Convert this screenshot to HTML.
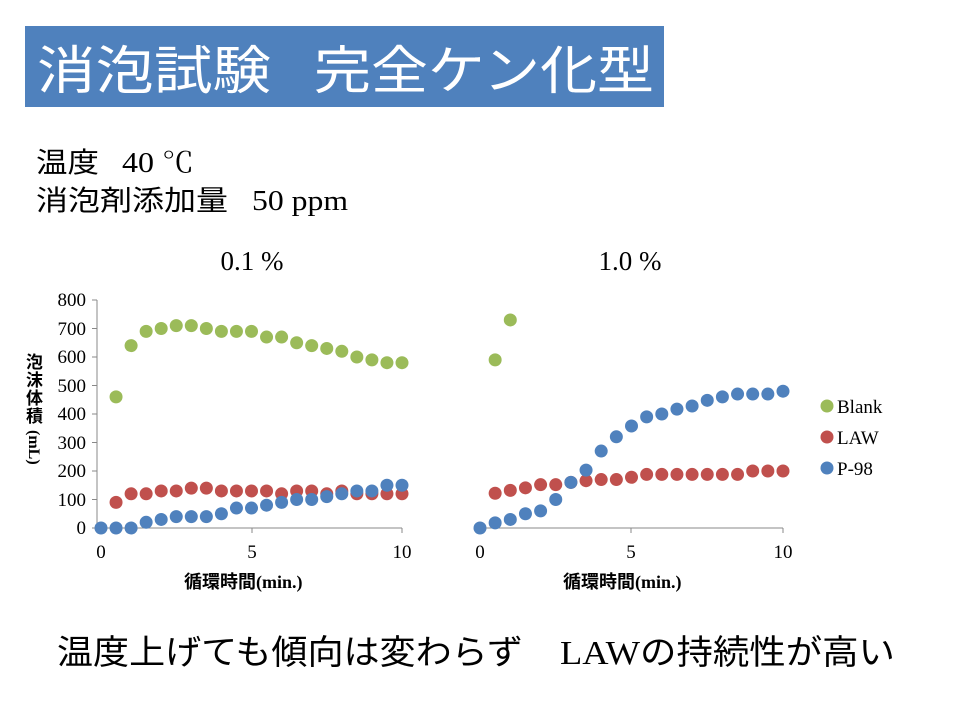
<!DOCTYPE html>
<html><head><meta charset="utf-8"><style>
html,body{margin:0;padding:0;background:#fff;width:960px;height:720px;overflow:hidden}
</style></head><body>
<svg id="s" width="960" height="720" xmlns="http://www.w3.org/2000/svg" font-family="'Liberation Serif','Noto Serif CJK SC',serif">
<rect x="25" y="26" width="639" height="81" fill="#4F81BD"/>
<text x="37" y="89" fill="#fff" font-size="52" font-family="'Liberation Sans','Noto Sans CJK JP',sans-serif" textLength="234" lengthAdjust="spacingAndGlyphs">消泡試験</text>
<text x="314" y="89" fill="#fff" font-size="52" font-family="'Liberation Sans','Noto Sans CJK JP',sans-serif" textLength="340" lengthAdjust="spacingAndGlyphs">完全ケン化型</text>
<text x="36" y="172" font-size="28" font-family="'Liberation Serif','Noto Sans CJK JP',serif" textLength="63" lengthAdjust="spacingAndGlyphs">温度</text>
<text x="122" y="172" font-size="28" textLength="72" lengthAdjust="spacingAndGlyphs">40 ℃</text>
<text x="36" y="210" font-size="28" font-family="'Liberation Serif','Noto Sans CJK JP',serif" textLength="192" lengthAdjust="spacingAndGlyphs">消泡剤添加量</text>
<text x="252" y="210" font-size="28" textLength="96" lengthAdjust="spacingAndGlyphs">50 ppm</text>
<text x="252" y="270" font-size="27" text-anchor="middle">0.1 %</text>
<text x="630" y="270" font-size="27" text-anchor="middle">1.0 %</text>
<g stroke="#888" stroke-width="1">
<line x1="97" y1="300" x2="97" y2="528"/><line x1="97" y1="528" x2="402" y2="528"/>
<line x1="92" y1="300" x2="97" y2="300"/><line x1="92" y1="328.5" x2="97" y2="328.5"/><line x1="92" y1="357" x2="97" y2="357"/><line x1="92" y1="385.5" x2="97" y2="385.5"/><line x1="92" y1="414" x2="97" y2="414"/><line x1="92" y1="442.5" x2="97" y2="442.5"/><line x1="92" y1="471" x2="97" y2="471"/><line x1="92" y1="499.5" x2="97" y2="499.5"/><line x1="92" y1="528" x2="97" y2="528"/>
<line x1="252" y1="528" x2="252" y2="533"/><line x1="402" y1="528" x2="402" y2="533"/>
<line x1="480" y1="528" x2="783" y2="528"/>
<line x1="480" y1="528" x2="480" y2="533"/><line x1="631" y1="528" x2="631" y2="533"/><line x1="783" y1="528" x2="783" y2="533"/>
</g>
<g font-size="19" text-anchor="end">
<text x="86" y="306">800</text><text x="86" y="335">700</text><text x="86" y="363">600</text><text x="86" y="392">500</text><text x="86" y="420">400</text><text x="86" y="449">300</text><text x="86" y="477">200</text><text x="86" y="506">100</text><text x="86" y="534">0</text>
</g>
<g font-size="19" text-anchor="middle">
<text x="101" y="558">0</text><text x="252" y="558">5</text><text x="402" y="558">10</text>
<text x="480" y="558">0</text><text x="631" y="558">5</text><text x="783" y="558">10</text>
</g>
<g font-size="18" font-weight="bold" font-family="'Liberation Serif','Noto Sans CJK JP',serif">
<text x="184" y="588">循環時間(min.)</text>
<text x="563" y="588">循環時間(min.)</text>
</g>
<g font-size="17" font-weight="bold" font-family="'Liberation Serif','Noto Sans CJK JP',serif">
<text x="26" y="368">泡</text><text x="26" y="386">沫</text><text x="26" y="404">体</text><text x="26" y="422">積</text>
<text transform="translate(29,430) rotate(90)" font-size="16">(mL)</text>
</g>
<g font-size="19">
<circle cx="827" cy="406" r="6.5" fill="#9BBB59"/><text x="837" y="413">Blank</text>
<circle cx="827" cy="437" r="6.5" fill="#C0504D"/><text x="837" y="444">LAW</text>
<circle cx="827" cy="468" r="6.5" fill="#4F81BD"/><text x="837" y="475">P-98</text>
</g>
<g id="pts"></g>
<text x="57" y="664" font-size="34" font-family="'Liberation Serif','Noto Sans CJK JP',serif" textLength="466" lengthAdjust="spacingAndGlyphs">温度上げても傾向は変わらず</text>
<text x="560" y="664" font-size="34" font-family="'Liberation Serif','Noto Sans CJK JP',serif" textLength="335" lengthAdjust="spacingAndGlyphs">LAWの持続性が高い</text>
</svg>
<script>
var g=document.getElementById('pts'),ns='http://www.w3.org/2000/svg';
function plot(x0,x10,data,col,start){for(var i=0;i<data.length;i++){if(data[i]==null)continue;var t=(start+i)*0.5;var c=document.createElementNS(ns,'circle');c.setAttribute('cx',x0+(x10-x0)*t/10);c.setAttribute('cy',528-data[i]*0.285);c.setAttribute('r',6.5);c.setAttribute('fill',col);g.appendChild(c);}}
var G='#9BBB59',R='#C0504D',B='#4F81BD';
plot(101,402,[460,640,690,700,710,710,700,690,690,690,670,670,650,640,630,620,600,590,580,580],G,1);
plot(101,402,[90,120,120,130,130,140,140,130,130,130,130,120,130,130,120,130,120,120,120,120],R,1);
plot(101,402,[0,0,0,20,30,40,40,40,50,70,70,80,90,100,100,110,120,130,130,150,150],B,0);
plot(480,783,[590,730],G,1);
plot(480,783,[122,132,141,152,152,160,166,170,170,178,188,188,188,188,188,188,188,200,200,200],R,1);
plot(480,783,[0,18,30,50,60,100,160,203,270,320,358,390,400,417,428,448,460,470,470,470,480],B,0);
</script>
</body></html>
